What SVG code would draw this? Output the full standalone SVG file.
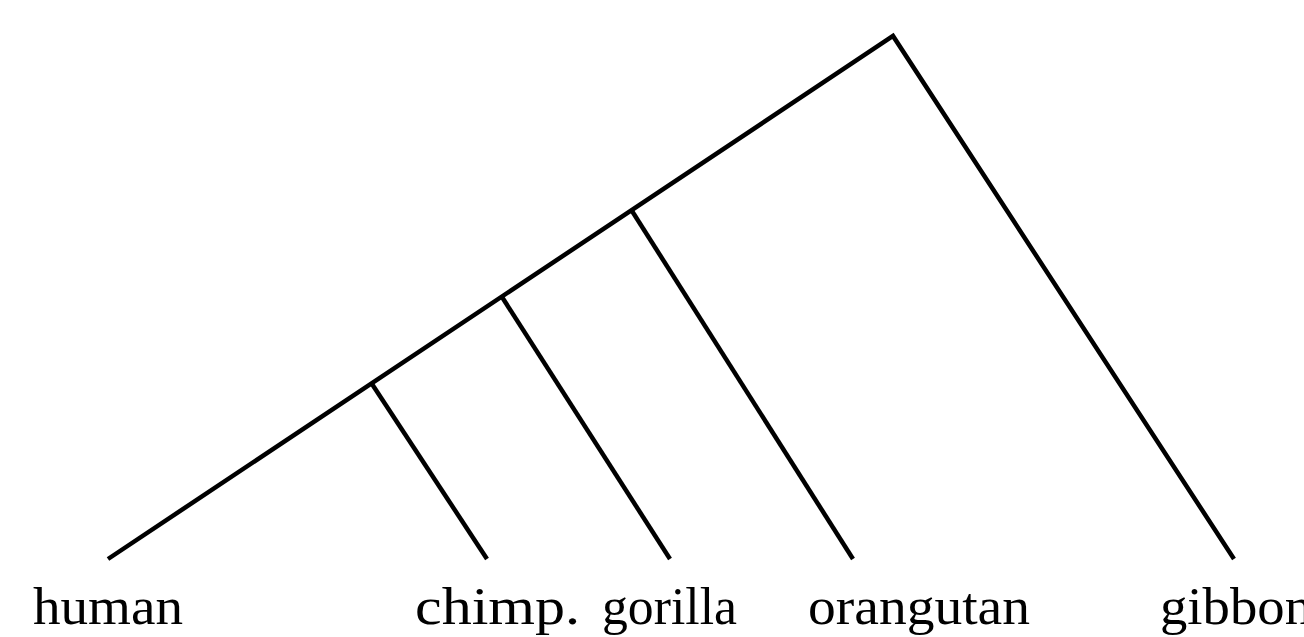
<svg xmlns="http://www.w3.org/2000/svg" width="1304" height="637" viewBox="0 0 1304 637">
<style>
.br{stroke:#000;stroke-width:4.5;fill:none;stroke-linecap:butt;stroke-linejoin:miter}
.lbl{font-family:"Liberation Serif","DejaVu Serif",serif;font-size:52px;fill:#000}
</style>
<rect width="1304" height="637" fill="#fff"/>
<g id="connectors">
<polyline class="br" points="108,559 893,36 1234,559"/>
<line class="br" x1="372" y1="384" x2="487" y2="559"/>
<line class="br" x1="502" y1="297" x2="670" y2="559"/>
<line class="br" x1="632" y1="211" x2="853" y2="559"/>
</g>
<g id="human"><text class="lbl" x="33" y="624" textLength="150" lengthAdjust="spacingAndGlyphs">human</text></g>
<g id="chimp"><text class="lbl" x="415" y="624" textLength="165" lengthAdjust="spacingAndGlyphs">chimp.</text></g>
<g id="gorilla"><text class="lbl" x="602" y="624" textLength="135" lengthAdjust="spacingAndGlyphs">gorilla</text></g>
<g id="orangutan"><text class="lbl" x="808" y="624" textLength="222" lengthAdjust="spacingAndGlyphs">orangutan</text></g>
<g id="gibbon"><text class="lbl" x="1160" y="624" textLength="152" lengthAdjust="spacingAndGlyphs">gibbon</text></g>
</svg>
